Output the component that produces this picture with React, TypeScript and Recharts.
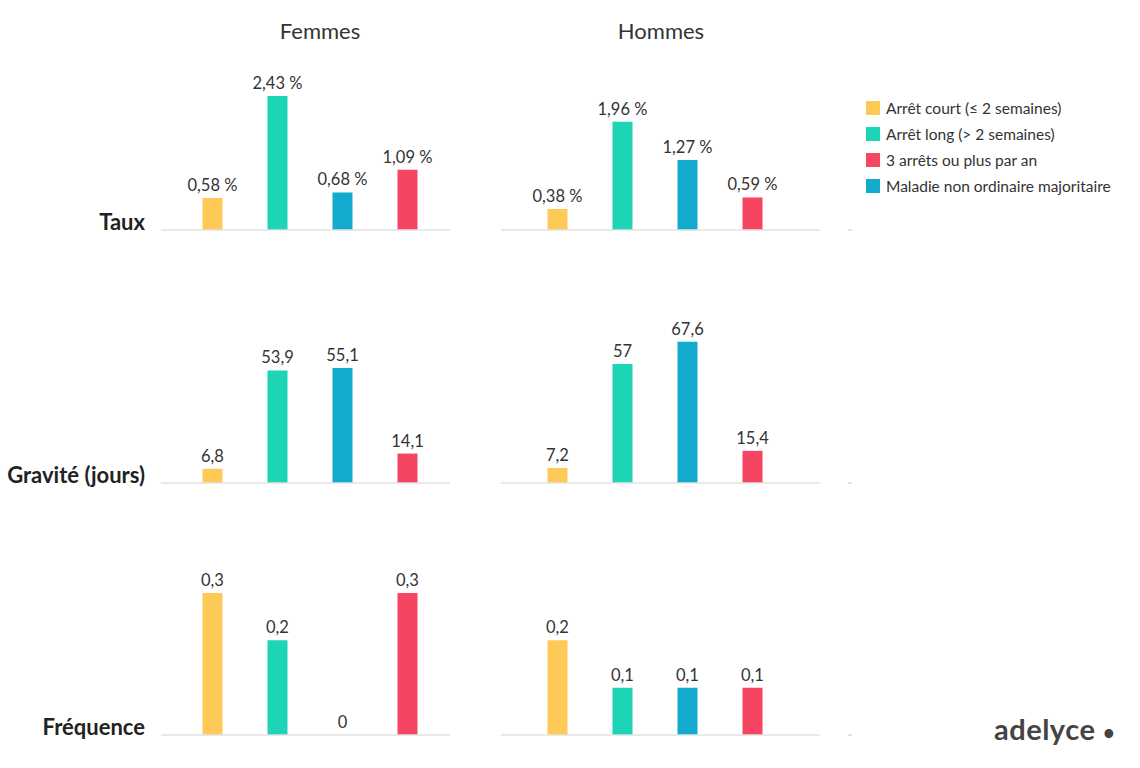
import React from "react";
import { BarChart, Bar, XAxis, YAxis, Cell, LabelList } from "recharts";

// bar order in each panel
const categories = [
  "Arrêt court (≤ 2 semaines)",
  "Arrêt long (> 2 semaines)",
  "Maladie non ordinaire majoritaire",
  "3 arrêts ou plus par an",
];
const colors = ["#FFC957", "#1DD4B6", "#13ABCD", "#F64563"];

// legend order
const legendOrder = [0, 1, 3, 2];

const columns = ["Femmes", "Hommes"];
const rows = ["Taux", "Gravité (jours)", "Fréquence"];

const tauxFemmes = [0.58, 2.43, 0.68, 1.09];
const tauxHommes = [0.38, 1.96, 1.27, 0.59];
const graviteFemmes = [6.8, 53.9, 55.1, 14.1];
const graviteHommes = [7.2, 57, 67.6, 15.4];
const frequenceFemmes = [0.3, 0.2, 0, 0.3];
const frequenceHommes = [0.2, 0.1, 0.1, 0.1];

const rowValues = [
  [tauxFemmes, tauxHommes],
  [graviteFemmes, graviteHommes],
  [frequenceFemmes, frequenceHommes],
];
const rowDomainMax = [2.9, 76.6, 0.338];
const rowBaseline = [230, 483, 735];

const FONT = "Lato, 'Open Sans', sans-serif";
const PLOT_H = 160;
const TOP = 30;

// horizontal placement of each column panel
const panels = [
  { left: 161, width: 289, padL: 18.5, padR: 10.5 },
  { left: 501, width: 319, padL: 23.5, padR: 35.5 },
];

function fmt(v: number, pct: boolean) {
  const s = String(v).replace(".", ",");
  return pct ? s + " %" : s;
}

function Panel({ values, row, col }: { values: number[]; row: number; col: number }) {
  const p = panels[col];
  const data = categories.map((name, i) => ({ name, value: values[i] }));

  const renderLabel = (props: any) => {
    const { x, y, width, value } = props;
    return (
      <text
        x={Number(x) + Number(width) / 2}
        y={Number(y) - 7}
        textAnchor="middle"
        fill="#333"
        fontSize={16.5}
        fontFamily={FONT}
      >
        {fmt(Number(value), row === 0)}
      </text>
    );
  };

  return (
    <div
      style={{
        position: "absolute",
        left: p.left,
        top: rowBaseline[row] - TOP - PLOT_H,
      }}
    >
      <BarChart
        width={p.width}
        height={TOP + PLOT_H + 1}
        data={data}
        margin={{ top: TOP, right: 0, left: 0, bottom: 0 }}
      >
        <XAxis
          dataKey="name"
          height={1}
          tick={false}
          tickLine={false}
          axisLine={{ stroke: "#e2e2e2", strokeWidth: 1.5 }}
          padding={{ left: p.padL, right: p.padR }}
        />
        <YAxis hide domain={[0, rowDomainMax[row]]} />
        <Bar dataKey="value" barSize={20} minPointSize={0.01} isAnimationActive={false}>
          {data.map((d, i) => (
            <Cell key={d.name} fill={colors[i]} />
          ))}
          <LabelList dataKey="value" content={renderLabel} />
        </Bar>
      </BarChart>
    </div>
  );
}

export default function App() {
  return (
    <div
      style={{
        position: "absolute",
        left: 0,
        top: 0,
        width: 1140,
        height: 768,
        background: "#fff",
        fontFamily: FONT,
        color: "#333",
      }}
    >
      {columns.map((c, i) => (
        <div
          key={c}
          style={{
            position: "absolute",
            left: i === 0 ? 220 : 561,
            width: 200,
            top: 17,
            textAlign: "center",
            fontSize: 22,
          }}
        >
          {c}
        </div>
      ))}

      {rows.map((r, i) => (
        <div
          key={r}
          style={{
            position: "absolute",
            right: 1140 - 145,
            top: rowBaseline[i] - 22,
            fontSize: 22,
            fontWeight: 700,
            whiteSpace: "nowrap",
            color: "#222",
          }}
        >
          {r}
        </div>
      ))}

      {rowValues.map((pair, r) =>
        pair.map((vals, c) => <Panel key={r + "-" + c} values={vals} row={r} col={c} />)
      )}

      {rowBaseline.map((b) => (
        <div
          key={b}
          style={{
            position: "absolute",
            left: 848,
            top: b - 1,
            width: 4,
            height: 1.5,
            background: "#e2e2e2",
          }}
        />
      ))}

      <div style={{ position: "absolute", left: 866, top: 95 }}>
        {legendOrder.map((i) => (
          <div
            key={categories[i]}
            style={{ display: "flex", alignItems: "center", height: 26, fontSize: 15.5 }}
          >
            <span
              style={{
                display: "inline-block",
                width: 14,
                height: 14,
                background: colors[i],
                marginRight: 6,
              }}
            />
            {categories[i]}
          </div>
        ))}
      </div>

      <div
        style={{
          position: "absolute",
          left: 994,
          top: 711,
          fontSize: 29,
          fontWeight: 700,
          color: "#444",
          letterSpacing: 0.5,
          whiteSpace: "nowrap",
        }}
      >
        adelyce <span style={{ fontSize: 20 }}>•</span>
      </div>
    </div>
  );
}
